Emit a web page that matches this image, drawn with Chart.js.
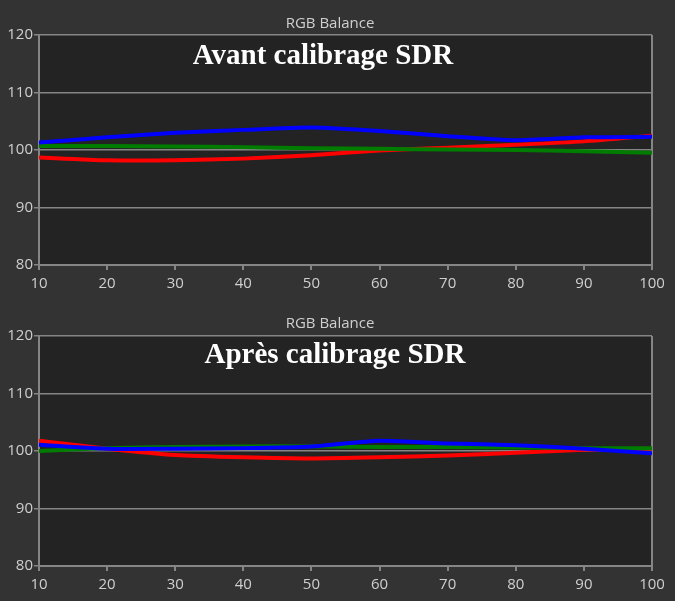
<!DOCTYPE html>
<html><head><meta charset="utf-8">
<script src="https://cdn.jsdelivr.net/npm/chart.js@4"></script>
<style>
html,body{margin:0;padding:0;background:#333333;}
canvas{display:block;}
</style>
</head><body>
<canvas id="c1" width="675" height="300"></canvas>
<canvas id="c2" width="675" height="301"></canvas>
<script>
const levels = [10, 20, 30, 40, 50, 60, 70, 80, 90, 100];
const yTickValues = [80, 90, 100, 110, 120];
const xTickValues = [10, 20, 30, 40, 50, 60, 70, 80, 90, 100];

const chartTitle = "RGB Balance";
const beforeHeading = "Avant calibrage SDR";
const afterHeading = "Après calibrage SDR";

const beforeRed   = [98.7, 98.2, 98.2, 98.5, 99.1, 99.9, 100.4, 100.9, 101.5, 102.5];
const beforeGreen = [100.7, 100.7, 100.6, 100.5, 100.3, 100.2, 100.1, 100.0, 99.8, 99.5];
const beforeBlue  = [101.3, 102.2, 103.0, 103.5, 103.9, 103.3, 102.4, 101.7, 102.2, 102.3];

const afterRed   = [101.8, 100.4, 99.3, 98.9, 98.7, 98.9, 99.2, 99.7, 100.2, 100.4];
const afterGreen = [100.0, 100.5, 100.7, 100.8, 100.8, 100.7, 100.7, 100.6, 100.5, 100.5];
const afterBlue  = [101.1, 100.4, 100.4, 100.5, 100.8, 101.8, 101.3, 101.0, 100.4, 99.6];

const GRID = '#858585';
const TXT = '#cfcfcf';

const overlayPlugin = {
  id: 'overlay',
  beforeDraw(chart, args, opts) {
    const ctx = chart.ctx, a = chart.chartArea;
    ctx.save();
    ctx.fillStyle = '#232323';
    ctx.fillRect(a.left, a.top, a.right - a.left, a.bottom - a.top);
    ctx.fillStyle = TXT;
    ctx.font = '15px "Open Sans"';
    ctx.textAlign = 'center';
    ctx.textBaseline = 'alphabetic';
    ctx.fillText(opts.title, opts.titleX, opts.titleY);
    ctx.restore();
  },
  afterDraw(chart, args, opts) {
    const ctx = chart.ctx;
    ctx.save();
    ctx.fillStyle = '#ffffff';
    ctx.font = 'bold 29px "Liberation Serif"';
    ctx.textAlign = 'center';
    ctx.textBaseline = 'alphabetic';
    ctx.fillText(opts.heading, opts.headingX, opts.headingY);
    ctx.restore();
  }
};

function pts(arr) { return levels.map((x, i) => ({x: x, y: arr[i]})); }

function makeChart(id, red, green, blue, heading, headingX, headingY, topPad, xHeight) {
  const ds = (label, arr, color) => ({
    label, data: pts(arr), borderColor: color, backgroundColor: color,
    borderWidth: 4, pointRadius: 0, tension: 0.2, fill: false
  });
  return new Chart(document.getElementById(id), {
    type: 'line',
    data: { datasets: [ ds('Blue', blue, '#0000ff'), ds('Green', green, '#007c00'), ds('Red', red, '#ff0000') ] },
    options: {
      responsive: false, animation: false, devicePixelRatio: 1,
      layout: { padding: { top: topPad, right: 23, left: 0, bottom: 0 } },
      plugins: {
        legend: { display: false }, tooltip: { enabled: false }, title: { display: false },
        overlay: { title: chartTitle, titleX: 330, titleY: 28, heading, headingX, headingY }
      },
      scales: {
        x: {
          type: 'linear', min: 10, max: 100,
          afterBuildTicks: s => { s.ticks = xTickValues.map(v => ({value: v})); },
          afterFit: s => { s.height = xHeight; },
          grid: {
            drawOnChartArea: true, drawTicks: true, tickLength: 5,
            color: c => (c.index === xTickValues.length - 1) ? GRID : 'rgba(0,0,0,0)',
            tickColor: GRID, lineWidth: 2
          },
          border: { display: true, color: GRID, width: 2 },
          ticks: { color: TXT, font: { family: 'Open Sans', size: 15 }, padding: 5, maxRotation: 0, autoSkip: false }
        },
        y: {
          type: 'linear', min: 80, max: 120,
          afterBuildTicks: s => { s.ticks = yTickValues.map(v => ({value: v})); },
          afterFit: s => { s.width = 39; },
          grid: { color: GRID, tickColor: GRID, lineWidth: 1.5, tickLength: 5 },
          border: { display: true, color: GRID, width: 2 },
          ticks: { color: TXT, font: { family: 'Open Sans', size: 15 }, padding: 1 }
        }
      }
    },
    plugins: [overlayPlugin]
  });
}

makeChart('c1', beforeRed, beforeGreen, beforeBlue, beforeHeading, 323, 64, 35, 35);
makeChart('c2', afterRed, afterGreen, afterBlue, afterHeading, 335, 63, 36, 35);
</script>
</body></html>
